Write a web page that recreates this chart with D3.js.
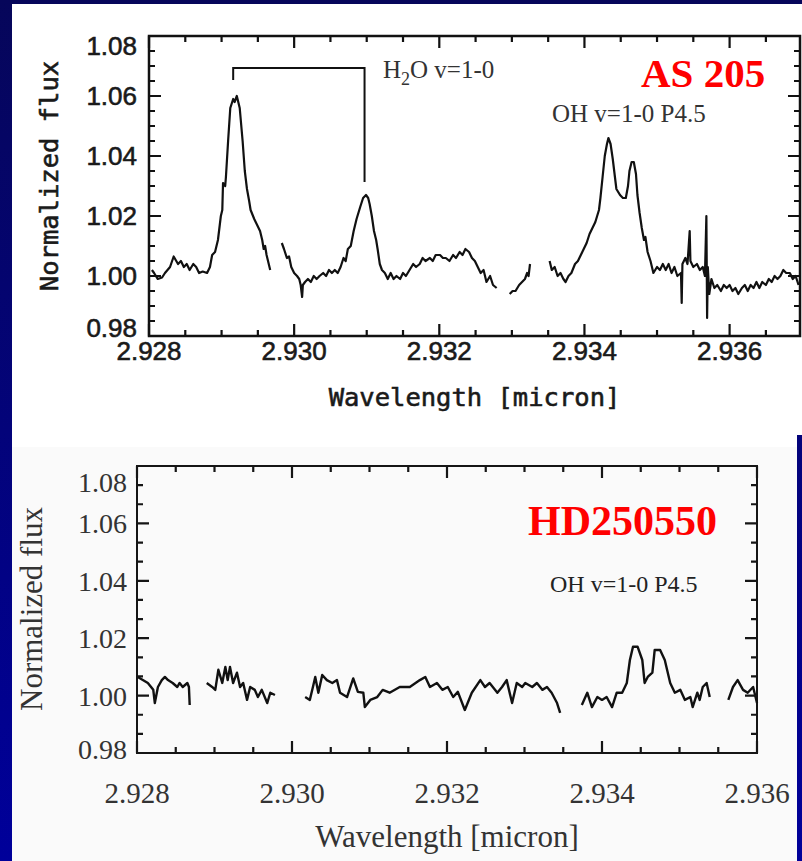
<!DOCTYPE html>
<html>
<head>
<meta charset="utf-8">
<script src="https://cdn.jsdelivr.net/npm/d3@7/dist/d3.min.js"></script>
<style>
  body { margin: 0; background: #00007a; }
  svg { display: block; }
</style>
</head>
<body>
<svg id="chart" width="802" height="861"></svg>
<script>
// AS 205 spectrum, wavelength [micron] / normalized flux, null marks a gap
const as205Wave = [
    2.92804, 2.92807, 2.92812, 2.92818, 2.92822, 2.92829, 2.92834, 2.92840, 2.92844, 2.92848,
    2.92852, 2.92856, 2.92861, 2.92865, 2.92869, 2.92874, 2.92880, 2.92884, 2.92887, 2.92891,
    2.92895, 2.92899, 2.92901, 2.92902, 2.92905, 2.92906, 2.92909, 2.92912, 2.92916, 2.92918,
    2.92921, 2.92925, 2.92929, 2.92932, 2.92935, 2.92938, 2.92940, 2.92945, 2.92949, 2.92953,
    2.92956, 2.92958, 2.92960, 2.92962, 2.92967,
    null,
    2.92983, 2.92986, 2.92990, 2.92993, 2.92996, 2.93000, 2.93004, 2.93007, 2.93009, 2.93011,
    2.93012, 2.93015, 2.93019, 2.93023, 2.93027, 2.93031, 2.93035, 2.93040, 2.93044, 2.93048,
    2.93052, 2.93056, 2.93060, 2.93064, 2.93068, 2.93071, 2.93074, 2.93078, 2.93082, 2.93086,
    2.93091, 2.93095, 2.93099, 2.93102, 2.93104, 2.93107, 2.93110, 2.93113, 2.93115, 2.93118,
    2.93121, 2.93125, 2.93129, 2.93133, 2.93137, 2.93141, 2.93146, 2.93150, 2.93154, 2.93159,
    2.93164, 2.93168, 2.93173, 2.93177, 2.93181, 2.93187, 2.93191, 2.93195, 2.93201, 2.93205,
    2.93209, 2.93214, 2.93219, 2.93223, 2.93228, 2.93232, 2.93236, 2.93241, 2.93245, 2.93249,
    2.93253, 2.93257, 2.93261, 2.93265, 2.93270, 2.93274, 2.93279,
    null,
    2.93297, 2.93301, 2.93305, 2.93310, 2.93314, 2.93318, 2.93321, 2.93323, 2.93325,
    null,
    2.93352, 2.93355, 2.93359, 2.93363, 2.93367, 2.93371, 2.93374, 2.93378, 2.93382, 2.93387,
    2.93391, 2.93395, 2.93399, 2.93403, 2.93407, 2.93411, 2.93415, 2.93420, 2.93422, 2.93425,
    2.93428, 2.93431, 2.93433, 2.93436, 2.93439, 2.93442, 2.93444, 2.93449, 2.93453, 2.93457,
    2.93460, 2.93462, 2.93465, 2.93468, 2.93471, 2.93473, 2.93476, 2.93479, 2.93482, 2.93484,
    2.93487, 2.93491, 2.93495, 2.93500, 2.93504, 2.93508, 2.93512, 2.93516, 2.93520, 2.93524,
    2.93528, 2.93533, 2.93534, 2.93535, 2.93539, 2.93542, 2.93545, 2.93546, 2.93550, 2.93555,
    2.93559, 2.93563, 2.93566, 2.93568, 2.93569, 2.93570, 2.93572, 2.93575, 2.93579, 2.93583,
    2.93588, 2.93592, 2.93596, 2.93600, 2.93604, 2.93608, 2.93612, 2.93617, 2.93621, 2.93625,
    2.93629, 2.93633, 2.93637, 2.93641, 2.93645, 2.93650, 2.93654, 2.93658, 2.93662, 2.93666,
    2.93670, 2.93674, 2.93678, 2.93683, 2.93687, 2.93691, 2.93695
];
const as205Flux = [
    1.0020, 1.0010, 0.9990, 0.9995, 1.0010, 1.0030, 1.0065, 1.0040, 1.0050, 1.0030,
    1.0040, 1.0020, 1.0040, 1.0030, 1.0010, 1.0015, 1.0010, 1.0030, 1.0070, 1.0080,
    1.0120, 1.0200, 1.0220, 1.0310, 1.0300, 1.0330, 1.0450, 1.0560, 1.0590, 1.0580,
    1.0600, 1.0560, 1.0450, 1.0350, 1.0290, 1.0250, 1.0220, 1.0190, 1.0170, 1.0150,
    1.0120, 1.0090, 1.0100, 1.0070, 1.0020,
    null,
    1.0110, 1.0090, 1.0060, 1.0065, 1.0030, 1.0010, 1.0000, 0.9990, 0.9970, 0.9930,
    0.9970, 0.9980, 0.9990, 0.9980, 1.0000, 0.9990, 1.0000, 1.0010, 1.0000, 1.0020,
    1.0010, 1.0020, 1.0010, 1.0030, 1.0060, 1.0050, 1.0090, 1.0100, 1.0150, 1.0190,
    1.0230, 1.0260, 1.0270, 1.0260, 1.0240, 1.0200, 1.0150, 1.0120, 1.0090, 1.0040,
    1.0020, 1.0010, 0.9990, 1.0010, 0.9990, 1.0000, 0.9990, 1.0010, 1.0000, 1.0020,
    1.0040, 1.0030, 1.0040, 1.0060, 1.0050, 1.0060, 1.0050, 1.0070, 1.0070, 1.0060,
    1.0060, 1.0050, 1.0070, 1.0060, 1.0080, 1.0070, 1.0090, 1.0080, 1.0060, 1.0050,
    1.0030, 1.0010, 1.0020, 0.9980, 1.0000, 0.9970, 0.9960,
    null,
    0.9940, 0.9950, 0.9950, 0.9970, 0.9980, 0.9990, 1.0010, 1.0000, 1.0040,
    null,
    1.0050, 1.0020, 1.0030, 1.0000, 1.0010, 0.9990, 0.9980, 1.0000, 1.0010, 1.0040,
    1.0050, 1.0070, 1.0090, 1.0110, 1.0140, 1.0160, 1.0180, 1.0220, 1.0260, 1.0330,
    1.0400, 1.0440, 1.0460, 1.0440, 1.0390, 1.0330, 1.0290, 1.0270, 1.0260, 1.0260,
    1.0300, 1.0350, 1.0380, 1.0380, 1.0340, 1.0270, 1.0210, 1.0160, 1.0120, 1.0130,
    1.0080, 1.0050, 1.0010, 1.0030, 1.0020, 1.0040, 1.0020, 1.0040, 1.0010, 1.0030,
    1.0000, 1.0010, 0.9910, 1.0040, 1.0060, 1.0040, 1.0150, 1.0050, 1.0030, 1.0040,
    1.0020, 1.0030, 1.0000, 1.0200, 0.9860, 1.0030, 0.9940, 0.9990, 0.9960, 0.9970,
    0.9950, 0.9970, 0.9960, 0.9970, 0.9950, 0.9960, 0.9940, 0.9960, 0.9970, 0.9950,
    0.9970, 0.9960, 0.9980, 0.9960, 0.9980, 0.9970, 0.9990, 0.9980, 1.0000, 0.9990,
    1.0000, 1.0020, 1.0010, 1.0010, 0.9990, 1.0000, 0.9970
];

// HD250550 spectrum
const hdWave = [
    2.92801, 2.92814, 2.92821, 2.92823, 2.92827, 2.92832, 2.92836, 2.92840, 2.92846, 2.92852,
    2.92855, 2.92859, 2.92865, 2.92867, 2.92868,
    null,
    2.92890, 2.92897, 2.92901, 2.92905, 2.92910, 2.92914, 2.92917, 2.92920, 2.92924, 2.92929,
    2.92933, 2.92937, 2.92942, 2.92946, 2.92952, 2.92956, 2.92961, 2.92968, 2.92972, 2.92978,
    null,
    2.93017, 2.93023, 2.93027, 2.93030, 2.93034, 2.93039, 2.93045, 2.93052, 2.93058, 2.93062,
    2.93071, 2.93079, 2.93085, 2.93092, 2.93094, 2.93101, 2.93110, 2.93117, 2.93126, 2.93139,
    2.93152, 2.93165, 2.93172, 2.93178, 2.93187, 2.93194, 2.93201, 2.93208, 2.93214, 2.93223,
    2.93232, 2.93243, 2.93249, 2.93255, 2.93265, 2.93271, 2.93277, 2.93284, 2.93290, 2.93297,
    2.93301, 2.93310, 2.93316, 2.93323, 2.93329, 2.93335, 2.93342, 2.93346,
    null,
    2.93374, 2.93381, 2.93387, 2.93394, 2.93400, 2.93406, 2.93413, 2.93419, 2.93426, 2.93432,
    2.93436, 2.93440, 2.93446, 2.93452, 2.93455, 2.93459, 2.93465, 2.93468, 2.93475, 2.93481,
    2.93488, 2.93494, 2.93501, 2.93507, 2.93514, 2.93517, 2.93523, 2.93526, 2.93530, 2.93535,
    2.93539,
    null,
    2.93563, 2.93569, 2.93575, 2.93582, 2.93588, 2.93595, 2.93600
];
const hdFlux = [
    1.0065, 1.0044, 1.0020, 0.9974, 1.0030, 1.0054, 1.0065, 1.0054, 1.0044, 1.0030,
    1.0044, 1.0030, 1.0044, 1.0030, 0.9967,
    null,
    1.0044, 1.0030, 1.0020, 1.0090, 1.0044, 1.0100, 1.0054, 1.0100, 1.0044, 1.0080,
    1.0030, 1.0044, 0.9985, 1.0030, 1.0020, 0.9995, 1.0020, 0.9974, 1.0010, 1.0002,
    null,
    0.9995, 0.9985, 1.0030, 1.0065, 1.0010, 1.0072, 1.0054, 1.0044, 1.0054, 1.0010,
    0.9995, 1.0060, 1.0013, 1.0010, 0.9960, 0.9985, 0.9995, 1.0020, 1.0010, 1.0030,
    1.0030, 1.0054, 1.0065, 1.0030, 1.0044, 1.0020, 1.0030, 0.9995, 1.0013, 0.9950,
    1.0010, 1.0054, 1.0030, 1.0044, 1.0010, 1.0030, 1.0054, 0.9974, 1.0044, 1.0030,
    1.0044, 1.0030, 1.0044, 1.0020, 1.0030, 1.0010, 0.9974, 0.9940,
    null,
    0.9967, 1.0010, 0.9960, 0.9995, 0.9985, 0.9995, 0.9960, 1.0010, 1.0010, 1.0044,
    1.0124, 1.0170, 1.0170, 1.0124, 1.0044, 1.0065, 1.0080, 1.0159, 1.0159, 1.0124,
    1.0044, 1.0010, 1.0020, 0.9985, 0.9995, 0.9960, 1.0010, 0.9985, 1.0030, 1.0044,
    0.9995,
    null,
    0.9985, 1.0030, 1.0054, 1.0020, 1.0010, 1.0030, 0.9974
];

const yTicks = [0.98, 1.00, 1.02, 1.04, 1.06, 1.08];
const xTicks = [2.928, 2.930, 2.932, 2.934, 2.936];
const h2oLines = [2.92916, 2.93097];          // bracket feet, micron
const h2oBracket = [1.0693, 1.0653, 1.0313];  // bar, left foot, right foot

const svg = d3.select("#chart");

const grad = svg.append("defs").append("linearGradient")
    .attr("id", "bg").attr("x1", 0).attr("y1", 0).attr("x2", 0).attr("y2", 1);
grad.append("stop").attr("offset", "0%").attr("stop-color", "#06065a");
grad.append("stop").attr("offset", "100%").attr("stop-color", "#00009a");

svg.append("rect").attr("width", 802).attr("height", 861).attr("fill", "url(#bg)");

// panel backgrounds
svg.append("rect").attr("x", 12).attr("y", 4).attr("width", 790).attr("height", 431).attr("fill", "#ffffff");
svg.append("rect").attr("x", 12).attr("y", 435).attr("width", 785).attr("height", 426).attr("fill", "#fafafa");
svg.append("rect").attr("x", 12).attr("y", 435).attr("width", 785).attr("height", 12).attr("fill", "#ffffff");

function drawPanel(o) {
    const x = d3.scaleLinear().domain(o.xDomain).range(o.xRange);
    const y = d3.scaleLinear().domain([0.98, 1.08]).range(o.yRange);
    const g = svg.append("g");

    const xMinor = d3.range(0, 40).map(i => 2.928 + i * 0.0005).filter(v => v <= o.xDomain[1] + 1e-9);
    const yMinor = d3.range(0, 40).map(i => 0.98 + i * o.yMinorStep).filter(v => v <= 1.08 + 1e-9);

    const [x0, x1] = o.xRange;
    const [y0, y1] = o.yRange;

    g.append("rect")
        .attr("x", x0).attr("y", y1).attr("width", x1 - x0).attr("height", y0 - y1)
        .attr("fill", "none").attr("stroke", o.ink).attr("stroke-width", o.frameWidth);

    // tick labels
    const lab = g.append("g").attr("fill", o.textInk)
        .attr("stroke", o.textStroke ? o.textInk : "none").attr("stroke-width", o.textStroke || 0);

    lab.selectAll(".xlab").data(xTicks).enter().append("text")
        .attr("x", d => x(d)).attr("y", o.xLabelBase)
        .attr("text-anchor", "middle")
        .style("font", o.tickFont)
        .text(d => d3.format(".3f")(d));

    lab.selectAll(".ylab").data(yTicks).enter().append("text")
        .attr("x", x0 - o.yLabelGap)
        .attr("y", d => y(d) + (d === 1.08 ? o.topNudge : d === 0.98 ? o.bottomNudge : 0))
        .attr("dy", "0.36em")
        .attr("text-anchor", "end")
        .style("font", o.yTickFont || o.tickFont)
        .text(d => d3.format(".2f")(d));

    lab.append("text")
        .attr("x", (x0 + x1) / 2).attr("y", o.xTitleBase)
        .attr("text-anchor", "middle")
        .style("font", o.titleFont)
        .text("Wavelength [micron]");

    lab.append("text")
        .attr("transform", `translate(${o.yTitleX},${o.yTitleY}) rotate(-90)`)
        .attr("text-anchor", "middle")
        .style("font", o.titleFont)
        .text("Normalized flux");

    // spectrum
    const pts = o.wave.map((w, i) => [w, o.flux[i]]);
    const line = d3.line()
        .defined(d => d[0] != null && d[1] != null)
        .x(d => x(d[0])).y(d => y(d[1]));
    g.append("path").datum(pts)
        .attr("d", line)
        .attr("fill", "none").attr("stroke", "#111")
        .attr("stroke-width", o.lineWidth)
        .attr("stroke-linejoin", "round");

    // tick marks on all four sides, drawn last as one path
    const isMajor = (list, v) => list.some(t => Math.abs(t - v) < 1e-7);
    const tickD = xMinor.map(v => {
        const len = isMajor(xTicks, v) ? o.majorLen : o.minorLen;
        return `M${x(v)},${y0}V${y0 - len}M${x(v)},${y1}V${y1 + len}`;
    }).concat(yMinor.map(v => {
        const len = isMajor(yTicks, v) ? o.majorLen : o.minorLen;
        return `M${x0},${y(v)}H${x0 + len}M${x1},${y(v)}H${x1 - len}`;
    })).join("");
    g.append("path")
        .attr("d", tickD)
        .attr("fill", "none")
        .attr("stroke", o.ink)
        .attr("stroke-width", o.tickWidth);

    return { x, y, g };
}

const topPanel = drawPanel({
    xDomain: [2.928, 2.93697], xRange: [149, 800], yRange: [336, 36],
    yMinorStep: 0.005, minorLen: 6, majorLen: 12,
    ink: "#111", textInk: "#1a1a1a", textStroke: 0.6, tickWidth: 2.2, frameWidth: 2.5,
    tickFont: "26px 'Liberation Sans', Arial, sans-serif",
    titleFont: "25.5px 'DejaVu Sans Mono', monospace",
    xLabelBase: 360, yLabelGap: 12, topNudge: 10, bottomNudge: -8,
    xTitleBase: 406, yTitleX: 58, yTitleY: 176,
    wave: as205Wave, flux: as205Flux, lineWidth: 2.2
});

const bottomPanel = drawPanel({
    xDomain: [2.928, 2.936], xRange: [137, 757], yRange: [753, 466],
    yMinorStep: 0.02 / 3, minorLen: 6, majorLen: 12,
    ink: "#151515", textInk: "#333", tickWidth: 2.2, frameWidth: 2,
    tickFont: "29px 'Liberation Serif', 'Times New Roman', serif",
    yTickFont: "28px 'Liberation Serif', 'Times New Roman', serif",
    titleFont: "31px 'Liberation Serif', 'Times New Roman', serif",
    xLabelBase: 803, yLabelGap: 10, topNudge: 16, bottomNudge: -4,
    xTitleBase: 847, yTitleX: 42, yTitleY: 609,
    wave: hdWave, flux: hdFlux, lineWidth: 2.4
});

// H2O bracket
const bx = topPanel.x, by = topPanel.y;
topPanel.g.append("path")
    .attr("d", d3.line()([
        [bx(h2oLines[0]), by(h2oBracket[1])],
        [bx(h2oLines[0]), by(h2oBracket[0])],
        [bx(h2oLines[1]), by(h2oBracket[0])],
        [bx(h2oLines[1]), by(h2oBracket[2])]
    ]))
    .attr("fill", "none").attr("stroke", "#111").attr("stroke-width", 2);

const serif = "'Liberation Serif', 'Times New Roman', serif";

const h2o = topPanel.g.append("text").attr("x", 383).attr("y", 78)
    .style("font-family", serif).style("font-size", "25px").attr("fill", "#333");
h2o.append("tspan").text("H");
h2o.append("tspan").attr("dy", 7).style("font-size", "18px").text("2");
h2o.append("tspan").attr("dy", -7).text("O v=1-0");

topPanel.g.append("text").attr("x", 552).attr("y", 122)
    .style("font-family", serif).style("font-size", "25px").attr("fill", "#333")
    .text("OH v=1-0 P4.5");

topPanel.g.append("text").attr("x", 641).attr("y", 87)
    .style("font-family", serif).style("font-size", "41px").style("font-weight", "bold")
    .attr("fill", "#ff0000").text("AS 205");

bottomPanel.g.append("text").attr("x", 528).attr("y", 535)
    .style("font-family", serif).style("font-size", "42px").style("font-weight", "bold")
    .attr("fill", "#ff0000").text("HD250550");

bottomPanel.g.append("text").attr("x", 550).attr("y", 592)
    .style("font-family", serif).style("font-size", "24px").attr("fill", "#222")
    .text("OH v=1-0 P4.5");
</script>
</body>
</html>
